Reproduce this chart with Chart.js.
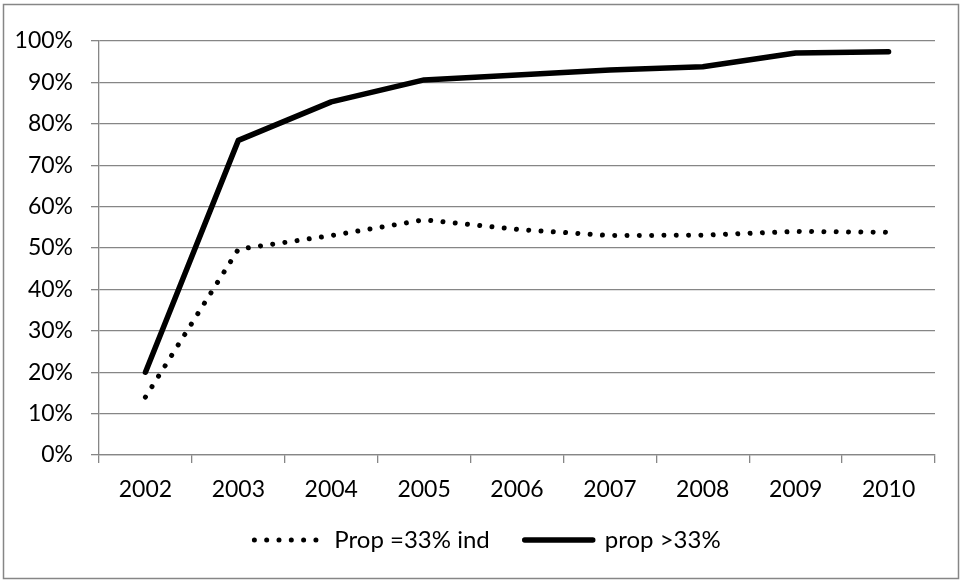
<!DOCTYPE html>
<html>
<head>
<meta charset="utf-8">
<script src="https://cdn.jsdelivr.net/npm/chart.js@4.4.1/dist/chart.umd.min.js"></script>
<style>
  html, body { margin: 0; padding: 0; background: #fff; }
  #wrap { position: absolute; left: 0; top: 0; width: 962px; height: 581px; }
</style>
</head>
<body>
<div id="wrap"><canvas id="chart" width="962" height="581"></canvas></div>
<script>
// Data
const years = ['2002', '2003', '2004', '2005', '2006', '2007', '2008', '2009', '2010'];
const propEq33 = [14, 49.7, 53, 56.8, 54.5, 53, 53.1, 54, 53.8];
const propOver33 = [20, 76, 85.3, 90.6, 91.8, 93, 93.8, 97.1, 97.4];

const gridGray = '#868686';

Chart.defaults.font.family = 'Lato, sans-serif';
Chart.defaults.font.size = 23;
Chart.defaults.color = '#000';

// outer frame around the whole chart, and legend nudged to where the reference has it
const framePlugin = {
    id: 'frame',
    afterLayout(chart) {
        const lg = chart.legend;
        if (lg) {
            lg.left = 40;
            lg.top -= 17;
            lg.bottom -= 17;
        }
    },
    afterDraw(chart) {
        const ctx = chart.ctx;
        ctx.save();
        ctx.strokeStyle = gridGray;
        ctx.lineWidth = 1.5;
        ctx.strokeRect(3.5, 4.5, 955, 574);
        ctx.restore();
    }
};

new Chart(document.getElementById('chart'), {
    type: 'line',
    data: {
        labels: years,
        datasets: [
            {
                label: 'Prop =33% ind',
                data: propEq33,
                borderColor: '#000',
                backgroundColor: '#000',
                borderWidth: 5,
                borderDash: [0.01, 12.3],
                borderCapStyle: 'round',
                pointRadius: 0,
                pointStyle: 'line',
                tension: 0
            },
            {
                label: 'prop >33%',
                data: propOver33,
                borderColor: '#000',
                backgroundColor: '#000',
                borderWidth: 5.5,
                borderCapStyle: 'round',
                borderJoinStyle: 'round',
                pointRadius: 0,
                pointStyle: 'line',
                tension: 0
            }
        ]
    },
    options: {
        responsive: false,
        animation: false,
        devicePixelRatio: 1,
        layout: {
            padding: { top: 41, right: 27, bottom: 2, left: 0 }
        },
        plugins: {
            legend: {
                position: 'bottom',
                labels: {
                    usePointStyle: true,
                    pointStyleWidth: 68,
                    padding: 35,
                    color: '#000',
                    font: { size: 24 },
                    generateLabels(chart) {
                        const items = Chart.defaults.plugins.legend.labels.generateLabels(chart);
                        items.forEach(item => {
                            const ds = chart.data.datasets[item.datasetIndex];
                            item.lineDash = ds.borderDash || [];
                            item.lineWidth = ds.borderWidth;
                            item.lineCap = ds.borderCapStyle;
                            item.strokeStyle = ds.borderColor;
                        });
                        return items;
                    }
                }
            },
            tooltip: { enabled: false }
        },
        scales: {
            x: {
                offset: true,
                grid: {
                    drawOnChartArea: false,
                    offset: true,
                    tickLength: 8,
                    color: gridGray,
                    lineWidth: 1.3
                },
                border: { color: gridGray, width: 1.3 },
                ticks: { padding: 13, maxRotation: 0 },
                afterFit(scale) { scale.height = 55; }
            },
            y: {
                min: 0,
                max: 100,
                grid: {
                    tickLength: 8,
                    color: gridGray,
                    lineWidth: 1.3
                },
                border: { color: gridGray, width: 1.3 },
                ticks: {
                    stepSize: 10,
                    padding: 18,
                    callback: v => v + '%'
                },
                afterFit(scale) { scale.width = 99; }
            }
        }
    },
    plugins: [framePlugin]
});
</script>
</body>
</html>
